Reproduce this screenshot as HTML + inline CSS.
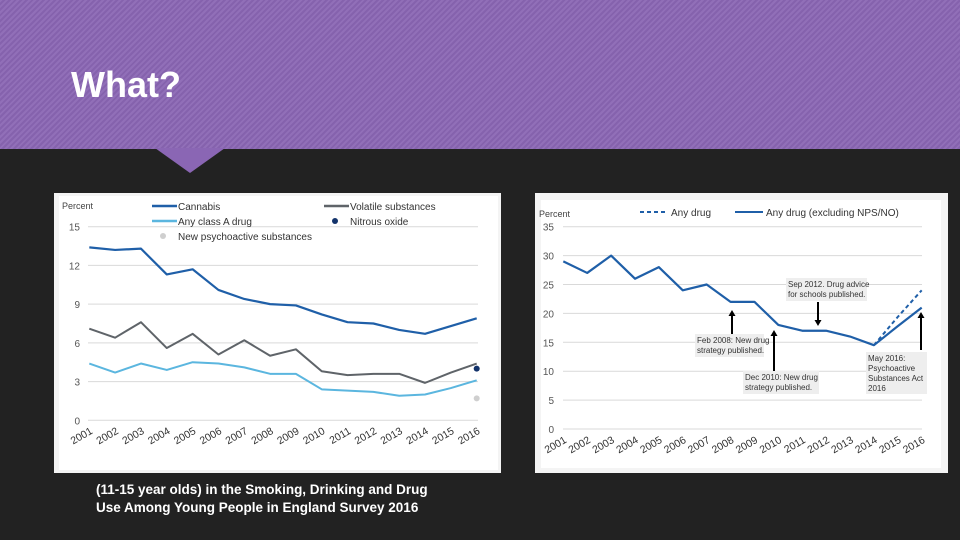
<!DOCTYPE html>
<html><head><meta charset="utf-8">
<style>
html,body{margin:0;padding:0;}
body{width:960px;height:540px;background:#222222;position:relative;overflow:hidden;font-family:"Liberation Sans",sans-serif;}
#header{position:absolute;left:0;top:0;width:960px;height:149px;background:#8a66b4;
background-image:repeating-linear-gradient(135deg,rgba(255,255,255,0.06) 0 2px,rgba(0,0,0,0.04) 2px 4px);}
#notch{position:absolute;left:155px;top:148px;width:0;height:0;border-left:35px solid transparent;border-right:35px solid transparent;border-top:25px solid #8a66b4;}
#title{position:absolute;left:71px;top:64px;color:#fff;font-weight:bold;font-size:36px;}
#caption{position:absolute;left:96px;top:481px;color:#fff;font-weight:bold;font-size:13.5px;line-height:17.5px;}
svg{position:absolute;left:0;top:0;}
</style></head><body>
<div id="header"></div>
<div id="notch"></div>
<div id="title">What?</div>
<div id="caption">(11-15 year olds) in the Smoking, Drinking and Drug<br>Use Among Young People in England Survey 2016</div>
<svg id="chart" width="960" height="540"></svg>
<script>
const years=["2001","2002","2003","2004","2005","2006","2007","2008","2009","2010","2011","2012","2013","2014","2015","2016"];
const cannabis=[13.4,13.2,13.3,11.3,11.7,10.1,9.4,9.0,8.9,8.2,7.6,7.5,7.0,6.7,7.3,7.9];
const volatile=[7.1,6.4,7.6,5.6,6.7,5.1,6.2,5.0,5.5,3.8,3.5,3.6,3.6,2.9,3.7,4.4];
const classA=[4.4,3.7,4.4,3.9,4.5,4.4,4.1,3.6,3.6,2.4,2.3,2.2,1.9,2.0,2.5,3.1];
const nitrous=[4.0];
const nps=[1.7];
const leftTicks=[0,3,6,9,12,15];
const anyExcl=[29,27,30,26,28,24,25,22,22,18,17,17,16,14.5,17.8,21];
const anyDrugYears=["2014","2015","2016"];
const anyDrug=[14.5,19.4,24];
const rightTicks=[0,5,10,15,20,25,30,35];

const NS="http://www.w3.org/2000/svg";
const svg=document.getElementById('chart');
function mk(t,a,p){const e=document.createElementNS(NS,t);for(const k in a)e.setAttribute(k,a[k]);(p||svg).appendChild(e);return e;}
function txt(x,y,s,a,p){const e=mk('text',Object.assign({x:x,y:y,'font-family':'Liberation Sans, sans-serif'},a),p);e.textContent=s;return e;}

const lp=mk('rect',{x:54,y:193,width:447,height:280,fill:'#f4f4f4'});

const lpi=mk('rect',{x:59,y:196,width:439,height:274,fill:'#fff'});

const rp=mk('rect',{x:535,y:193,width:413,height:280,fill:'#f4f4f4'});

const rpi=mk('rect',{x:541,y:200,width:400,height:268,fill:'#fff'});


const Lx=i=>89.3+i*(476.7-89.3)/(years.length-1);
const Ly=v=>420.3-v*(420.3-226.7)/15;
const lg=mk('g',{});

leftTicks.forEach(t=>{
  const l=mk('line',{x1:88,x2:478,y1:Ly(t),y2:Ly(t),stroke:'#d9d9d9','stroke-width':1},lg);
  
  const tl=txt(80,Ly(t)+4,String(t),{'font-size':10,fill:'#555','text-anchor':'end'},lg);
  
});
years.forEach((y,i)=>{
  const tl=txt(Lx(i)+4,433,y,{'font-size':10.5,fill:'#333','text-anchor':'end',transform:`rotate(-30 ${Lx(i)+4} 433)`},lg);
  
});
const yl=txt(62,209,'Percent',{'font-size':9,fill:'#444'},lg);

function series(arr,xf,yf,color,w,name,dash,off){
  const pts=arr.map((v,i)=>xf(i+(off||0))+','+yf(v)).join(' ');
  const a={points:pts,fill:'none',stroke:color,'stroke-width':w,'stroke-linejoin':'round'};
  if(dash)a['stroke-dasharray']=dash;
  const p=mk('polyline',a);
  
}
series(classA,Lx,Ly,'#5bb6df',2,'line-any-class-a-drug');
series(volatile,Lx,Ly,'#5f6469',2,'line-volatile-substances');
series(cannabis,Lx,Ly,'#1f5fa8',2.2,'line-cannabis');
const no=mk('circle',{cx:Lx(15),cy:Ly(nitrous[0]),r:3,fill:'#13336b'});

const np=mk('circle',{cx:Lx(15),cy:Ly(nps[0]),r:3,fill:'#cfcfcf'});

const legL=[['Cannabis','line','#1f5fa8',152,209],['Any class A drug','line','#5bb6df',152,224],['New psychoactive substances','dot','#cfcfcf',152,239],['Volatile substances','line','#5f6469',324,209],['Nitrous oxide','dot','#13336b',324,224]];
legL.forEach(d=>{
  const g=mk('g',{});
  if(d[1]==='line')mk('line',{x1:d[3],x2:d[3]+25,y1:d[4]-3,y2:d[4]-3,stroke:d[2],'stroke-width':2.5},g);
  else mk('circle',{cx:d[3]+11,cy:d[4]-3,r:3,fill:d[2]},g);
  txt(d[3]+26,d[4]+1,d[0],{'font-size':10,fill:'#333'},g);
});

const Rx=i=>563.3+i*(921.7-563.3)/(years.length-1);
const Ry=v=>429-v*(429-226.7)/35;
const rg=mk('g',{});
rightTicks.forEach(t=>{
  const l=mk('line',{x1:563,x2:922,y1:Ry(t),y2:Ry(t),stroke:'#d9d9d9','stroke-width':1},rg);
  
  const tl=txt(554,Ry(t)+4,String(t),{'font-size':10,fill:'#555','text-anchor':'end'},rg);
  
});
years.forEach((y,i)=>{
  const tl=txt(Rx(i)+4,442,y,{'font-size':10.5,fill:'#333','text-anchor':'end',transform:`rotate(-30 ${Rx(i)+4} 442)`},rg);
  
});
const ryl=txt(539,217,'Percent',{'font-size':9,fill:'#444'},rg);

series(anyDrug,Rx,Ry,'#1f5fa8',2,'line-any-drug','4,3',years.indexOf(anyDrugYears[0]));
series(anyExcl,Rx,Ry,'#1f5fa8',2.2,'line-any-drug-excluding-nps-no');
const legR=[['Any drug','4,3',640],['Any drug (excluding NPS/NO)',null,735]];
legR.forEach(d=>{
  const g=mk('g',{});
  const a={x1:d[2],x2:d[2]+28,y1:212,y2:212,stroke:'#1f5fa8','stroke-width':2};if(d[1])a['stroke-dasharray']=d[1];
  mk('line',a,g);
  txt(d[2]+31,216,d[0],{'font-size':10,fill:'#333'},g);
});
const ann=[
 {name:'annotation-feb-2008',bx:695,by:334,bw:69,bh:23,lines:['Feb 2008: New drug','strategy published.'],ax:732,ay1:334,ay2:310},
 {name:'annotation-dec-2010',bx:743,by:371,bw:76,bh:23,lines:['Dec 2010: New drug','strategy published.'],ax:774,ay1:371,ay2:330},
 {name:'annotation-sep-2012',bx:786,by:278,bw:81,bh:23,lines:['Sep 2012. Drug advice','for schools published.'],ax:818,ay1:302,ay2:326},
 {name:'annotation-may-2016',bx:866,by:352,bw:61,bh:42,lines:['May 2016:','Psychoactive','Substances Act','2016'],ax:921,ay1:350,ay2:312}
];
ann.forEach(a=>{
  const g=mk('g',{});
  mk('rect',{x:a.bx,y:a.by,width:a.bw,height:a.bh,fill:'#eeeeee'},g);
  a.lines.forEach((s,i)=>txt(a.bx+2,a.by+9+i*10,s,{'font-size':8,fill:'#333'},g));
  const up=a.ay2<a.ay1;
  mk('line',{x1:a.ax,x2:a.ax,y1:a.ay1,y2:up?a.ay2+5:a.ay2-5,stroke:'#000','stroke-width':2},g);
  const h=up?`${a.ax-3.5},${a.ay2+6} ${a.ax+3.5},${a.ay2+6} ${a.ax},${a.ay2}`:`${a.ax-3.5},${a.ay2-6} ${a.ax+3.5},${a.ay2-6} ${a.ax},${a.ay2}`;
  mk('polygon',{points:h,fill:'#000'},g);
});
</script>
</body></html>
